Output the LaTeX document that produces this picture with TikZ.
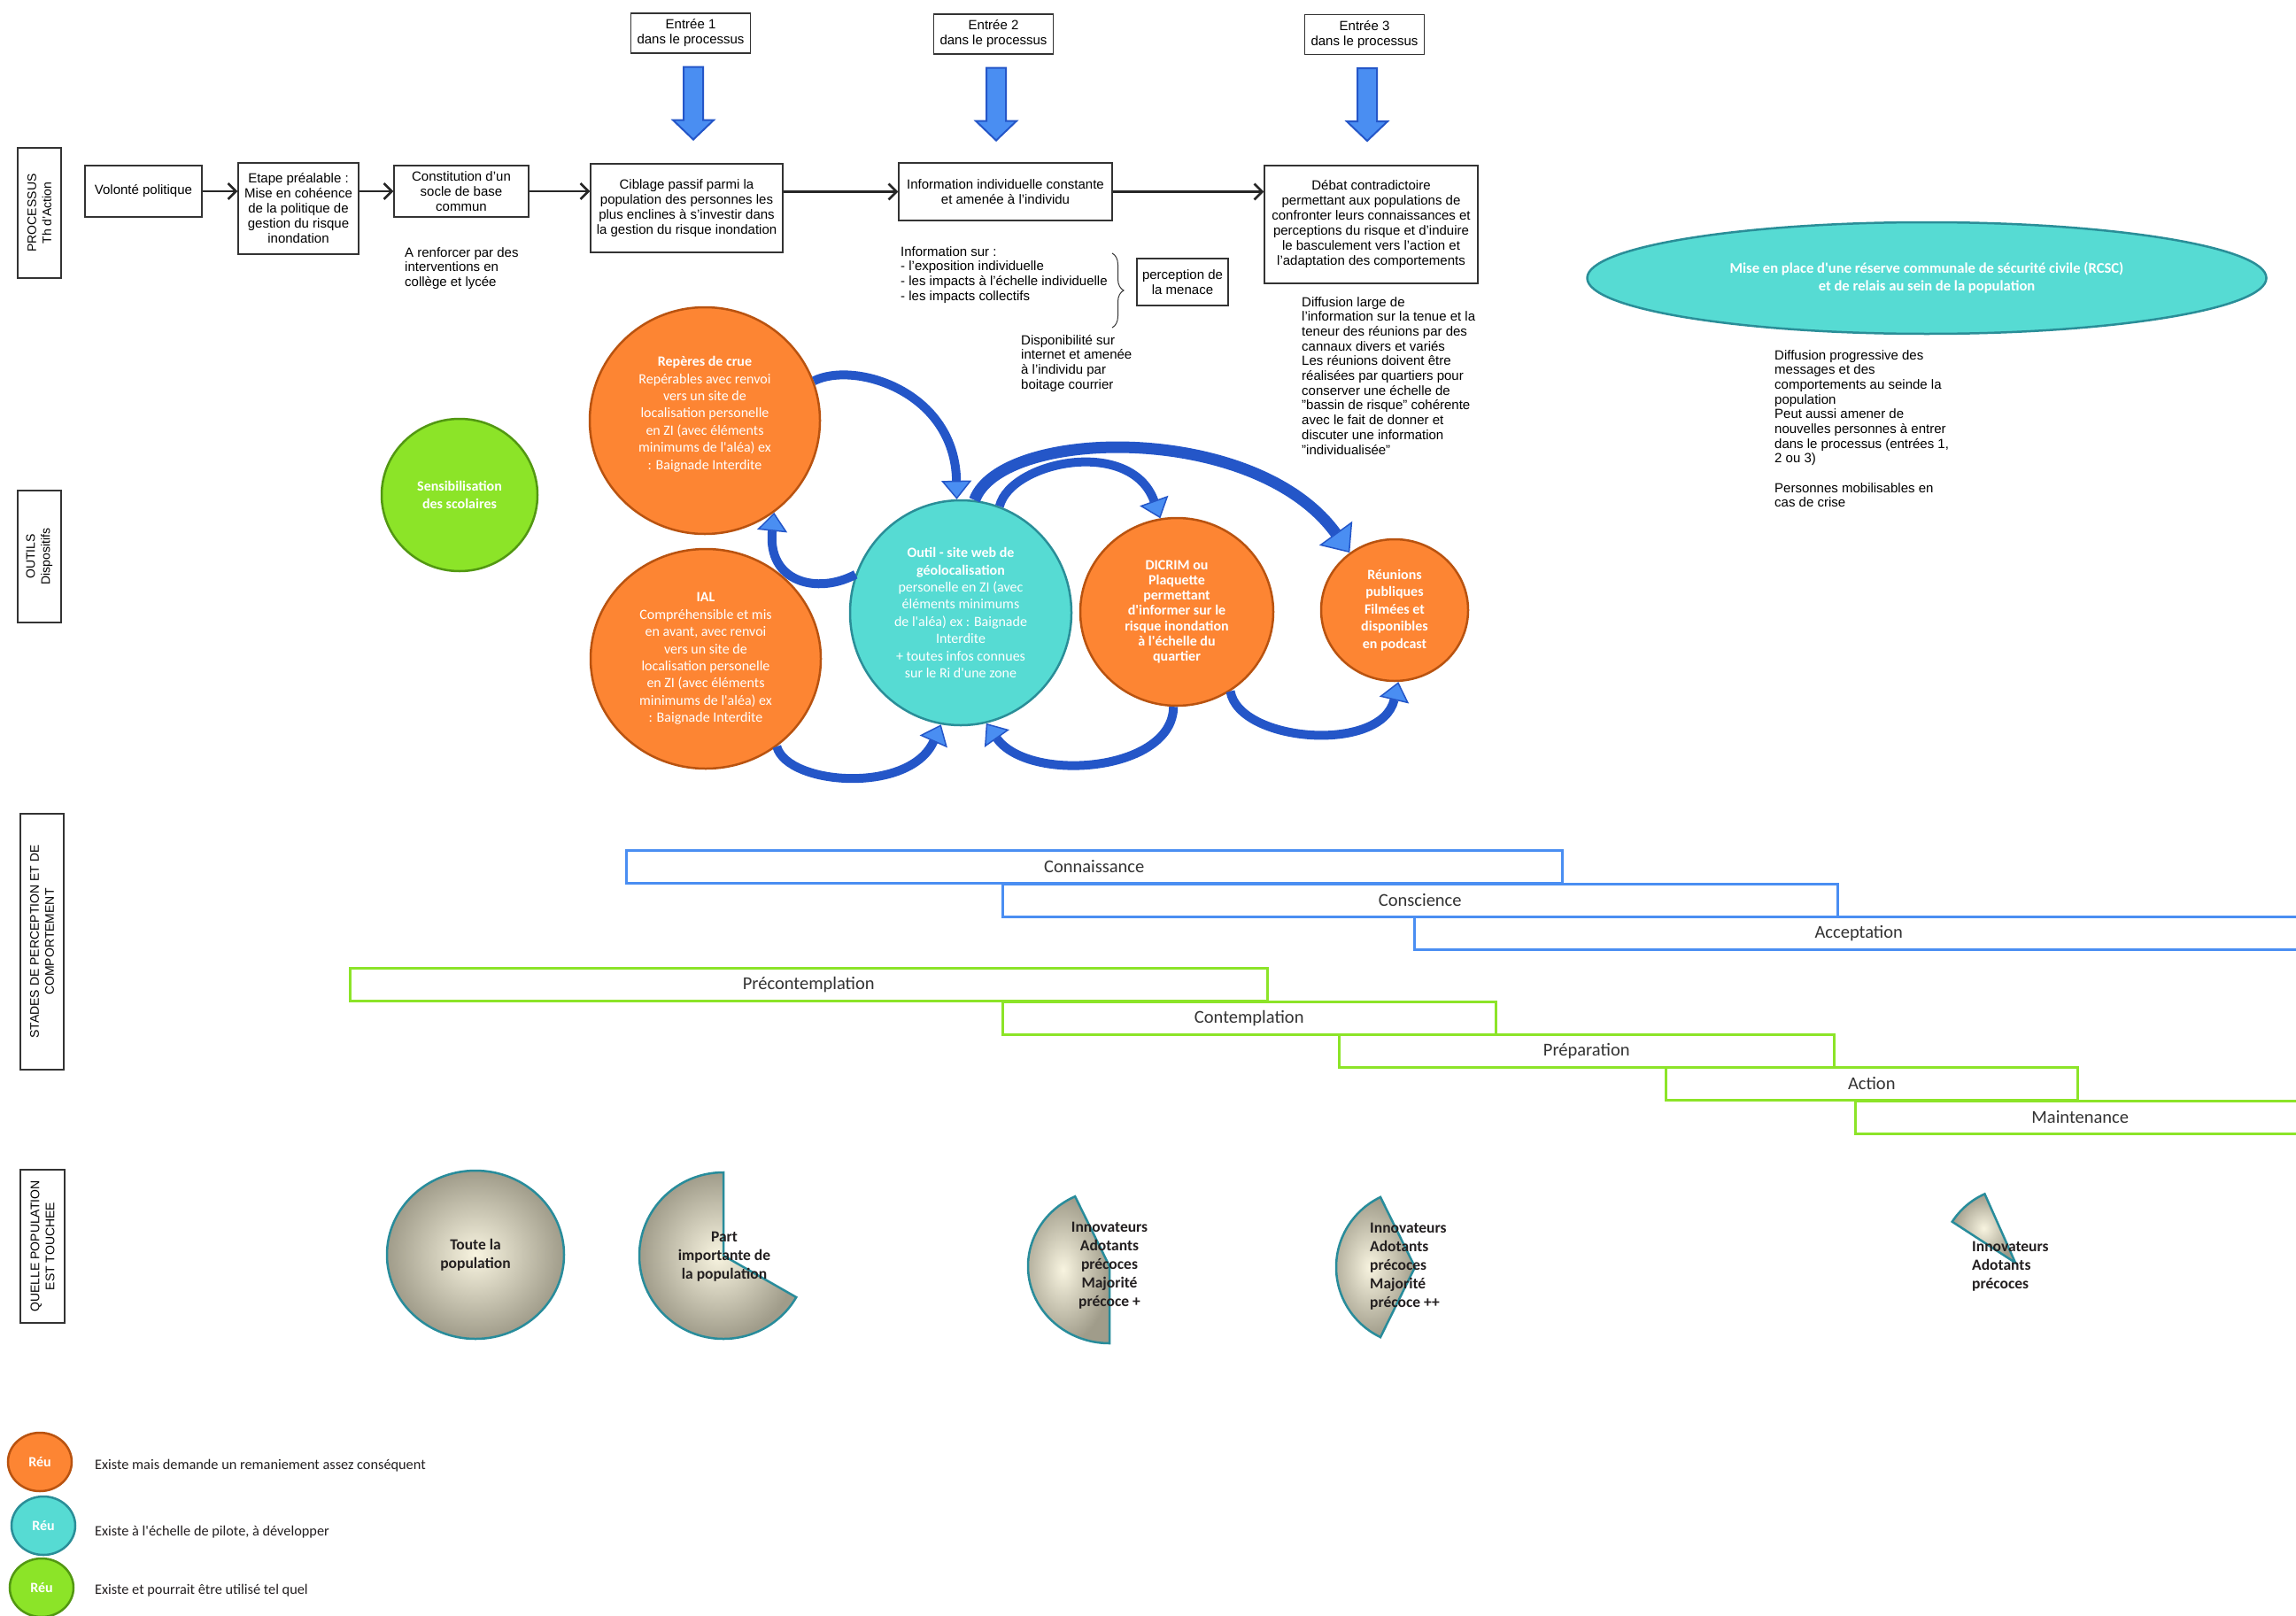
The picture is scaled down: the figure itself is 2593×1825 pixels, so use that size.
\documentclass[tikz,border=0pt]{standalone}
\usepackage{fontspec}
\setmainfont{Liberation Sans}
\newfontfamily\carlito{Carlito}
\usetikzlibrary{arrows.meta,positioning,shapes.geometric,decorations.pathreplacing}

\definecolor{orfill}{RGB}{253,133,51}
\definecolor{ordraw}{RGB}{185,83,16}
\definecolor{tqfill}{RGB}{86,219,211}
\definecolor{tqdraw}{RGB}{42,142,152}
\definecolor{grfill}{RGB}{140,228,40}
\definecolor{grdraw}{RGB}{82,152,18}
\definecolor{barblue}{RGB}{74,142,242}
\definecolor{bargreen}{RGB}{140,228,40}
\definecolor{flowdark}{RGB}{36,86,200}
\definecolor{flowlight}{RGB}{74,142,242}
\definecolor{popin}{RGB}{248,244,224}
\definecolor{popout}{RGB}{160,156,138}
\definecolor{popdraw}{RGB}{40,140,155}
\definecolor{txtdark}{RGB}{35,31,32}

\begin{document}
\begin{tikzpicture}
	% Styles
	[
	x=1pt, y=-1pt,
	procbox/.style={draw=black!80, line width=1.2pt, fill=white, align=center, inner sep=2pt, font=\fontsize{15}{17}\selectfont},
	note/.style={align=left, anchor=north west, inner sep=0pt, font=\fontsize{15}{16.7}\selectfont},
	section/.style={draw=black!80, line width=1.2pt, rotate=90, align=center, inner sep=0pt, font=\fontsize{14}{17}\selectfont},
	tool/.style={ellipse, line width=2.5pt, inner sep=0pt, align=center, text=white, font=\carlito\fontsize{16}{19.4}\selectfont},
	toolor/.style={tool, draw=ordraw, fill=orfill},
	tooltq/.style={tool, draw=tqdraw, fill=tqfill},
	toolgr/.style={tool, draw=grdraw, fill=grfill},
	stadebl/.style={draw=barblue, line width=2.5pt, anchor=north west, minimum height=37pt, inner sep=0pt, text=black!80, font=\carlito\fontsize{20.5}{24}\selectfont},
	stadevt/.style={stadebl, draw=bargreen},
	pop/.style={draw=popdraw, line width=2.5pt, inner color=popin, outer color=popout},
	poptxt/.style={align=center, inner sep=0pt, text=txtdark, font=\carlito\bfseries\fontsize{17.5}{21}\selectfont},
	legtxt/.style={anchor=west, inner sep=0pt, text=txtdark, font=\carlito\fontsize{16.3}{19}\selectfont},
	flecheproc/.style={draw=black!85, line width=2.6pt, -{Straight Barb[length=9pt,width=18pt]}},
	bigdown/.style={draw=flowdark, line width=2pt, fill=flowlight, line join=miter},
	flow/.style={draw=flowdark, line width=10pt, -{Triangle[width=34pt,length=21pt,fill=flowlight,line width=1.5pt]}},
	flowbig/.style={draw=flowdark, line width=13pt, -{Triangle[width=46pt,length=27pt,fill=flowlight,line width=1.5pt]}},
	]

	\path[use as bounding box, fill=white] (0,0) rectangle (2593,1825);

	% Section labels
	\node at (44.5,240.5)	(lproc)		[section, minimum width=147pt, minimum height=49pt] {PROCESSUS\\Th d'Action};
	\node at (44.5,628.5)	(loutils)	[section, minimum width=149pt, minimum height=49pt] {OUTILS\\Dispositifs};
	\node at (47.5,1063.5)	(lstades)	[section, minimum width=289pt, minimum height=49pt] {STADES DE PERCEPTION ET DE\\COMPORTEMENT};
	\node at (48,1407.5)	(lquelle)	[section, minimum width=173pt, minimum height=50pt] {QUELLE POPULATION\\EST TOUCHEE};

	% Process
	\node at (780,37.5)		(e1)		[procbox, minimum width=135pt, minimum height=45pt] {Entrée 1\\dans le processus};
	\node at (1122,38.5)	(e2)		[procbox, minimum width=135pt, minimum height=45pt] {Entrée 2\\dans le processus};
	\node at (1541,39)		(e3)		[procbox, minimum width=135pt, minimum height=45pt] {Entrée 3\\dans le processus};

	\node at (162,216)		(vol)		[procbox, minimum width=132pt, minimum height=58pt] {Volonté politique};
	\node at (337,235.5)	(etape)		[procbox, minimum width=136pt, minimum height=103pt] {Etape préalable :\\Mise en cohéence\\de la politique de\\gestion du risque\\inondation};
	\node at (521,216)		(socle)		[procbox, minimum width=152pt, minimum height=58pt] {Constitution d'un\\socle de base\\commun};
	\node at (775.5,235)	(ciblage)	[procbox, minimum width=217pt, minimum height=100pt] {Ciblage passif parmi la\\population des personnes les\\plus enclines à s'investir dans\\la gestion du risque inondation};
	\node at (1135.5,216.5)	(info)		[procbox, minimum width=241pt, minimum height=65pt] {Information individuelle constante\\et amenée à l'individu};
	\node at (1548.5,253.5)	(debat)		[procbox, minimum width=241pt, minimum height=133pt] {Débat contradictoire\\permettant aux populations de\\confronter leurs connaissances et\\perceptions du risque et d'induire\\le basculement vers l'action et\\l'adaptation des comportements};
	\node at (1335.5,318.5)	(menace)	[procbox, minimum width=103pt, minimum height=53pt] {perception de\\la menace};

	% Notes
	\node at (457,279)		(renfort)	[note] {A renforcer par des\\interventions en\\collège et lycée};
	\node at (1017,278)		(infosur)	[note] {Information sur :\\- l'exposition individuelle\\- les impacts à l'échelle individuelle\\- les impacts collectifs};
	\node at (1153,378)		(dispo)		[note] {Disponibilité sur\\internet et amenée\\à l'individu par\\boitage courrier};
	\node at (1470,335)		(diffusion)	[note] {Diffusion large de\\l'information sur la tenue et la\\teneur des réunions par des\\cannaux divers et variés\\Les réunions doivent être\\réalisées par quartiers pour\\conserver une échelle de\\"bassin de risque" cohérente\\avec le fait de donner et\\discuter une information\\"individualisée"};
	\node at (2004,395)		(diffprog)	[note] {Diffusion progressive des\\messages et des\\comportements au seinde la\\population\\Peut aussi amener de\\nouvelles personnes à entrer\\dans le processus (entrées 1,\\2 ou 3)\\[16.5pt]Personnes mobilisables en\\cas de crise};

	\coordinate (bhaut) at (1256,286);
	\coordinate (bbas) at (1256,370);
	\draw[black!80, line width=1pt, decorate, decoration={brace, amplitude=13pt}] (bhaut) -- (bbas);

	% Process connections
	\foreach \e in {e1,e2,e3}
		\draw[bigdown] (\e.south) ++(-8,15) -- ++(22,0) -- ++(0,60) -- ++(12,0) -- ++(-23,22) -- ++(-23,-22) -- ++(12,0) -- cycle;

	\draw[flecheproc] (vol.east) -- (vol.east -| etape.west);
	\draw[flecheproc] (etape.east |- socle.west) -- (socle.west);
	\draw[flecheproc] (socle.east) -- (socle.east -| ciblage.west);
	\draw[flecheproc] (ciblage.east |- info.west) -- (info.west);
	\draw[flecheproc] (info.east) -- (info.east -| debat.west);

	% Tools
	\node at (2176,314)		(rcsc)		[tooltq, minimum width=767pt, minimum height=126pt, font=\carlito\bfseries\fontsize{16.6}{20}\selectfont] {Mise en place d'une réserve communale de sécurité civile (RCSC)\\et de relais au sein de la population};
	\node at (519,559)		(sensib)	[toolgr, minimum width=176pt, minimum height=172pt, font=\carlito\bfseries\fontsize{16}{20}\selectfont] {Sensibilisation\\des scolaires};
	\node at (796,475)		(reperes)	[toolor, minimum width=260pt, minimum height=256pt] {\textbf{Repères de crue}\\Repérables avec renvoi\\vers un site de\\localisation personelle\\en ZI (avec éléments\\minimums de l'aléa) ex\\: Baignade Interdite\\[-2pt]\mbox{}};
	\node at (797,744)		(ial)		[toolor, minimum width=260pt, minimum height=248pt] {\textbf{IAL}\\Compréhensible et mis\\en avant, avec renvoi\\vers un site de\\localisation personelle\\en ZI (avec éléments\\minimums de l'aléa) ex\\: Baignade Interdite};
	\node at (1085,692)		(outil)		[tooltq, minimum width=250pt, minimum height=254pt] {\textbf{Outil - site web de}\\\textbf{géolocalisation}\\personelle en ZI (avec\\éléments minimums\\de l'aléa) ex : Baignade\\Interdite\\+ toutes infos connues\\sur le Ri d'une zone};
	\node at (1329,691)		(dicrim)	[toolor, minimum width=218pt, minimum height=212pt, font=\carlito\bfseries\fontsize{16}{17.3}\selectfont] {DICRIM ou\\Plaquette\\permettant\\d'informer sur le\\risque inondation\\à l'échelle du\\quartier};
	\node at (1575,689)		(reunions)	[toolor, minimum width=166pt, minimum height=160pt, font=\carlito\bfseries\fontsize{16}{19.6}\selectfont] {Réunions\\publiques\\Filmées et\\disponibles\\en podcast};

	% Tool connections
	\draw[flow] (reperes.20) .. controls +(46,-23) and +(-2,-122) .. (outil.92);
	\draw[flowbig] (outil.83) .. controls +(30,-82) and +(-107,-148) .. (reunions.128);
	\draw[flow] (outil.70) .. controls +(13,-51) and +(-33,-92) .. (dicrim.100);
	\draw[flow] (outil.160) .. controls +(-43,23) and +(-8,79) .. (reperes.-53);
	\draw[flow] (ial.-51) .. controls +(12,44) and +(-35,79) .. (outil.-100);
	\draw[flow] (dicrim.-92) .. controls +(-1,74) and +(48,68) .. (outil.-77);
	\draw[flow] (dicrim.-56) .. controls +(10,58) and +(-19,81) .. (reunions.-87);

	% Stages
	\node at (706,959)		(connaissance)	[stadebl, minimum width=1057pt] {Connaissance};
	\node at (1131,997)		(conscience)	[stadebl, minimum width=943pt] {Conscience};
	\node at (1596,1034)	(acceptation)	[stadebl, minimum width=1004pt] {Acceptation};
	\node at (394,1092)		(precont)		[stadevt, minimum width=1036pt] {Précontemplation};
	\node at (1131,1130)	(contempl)		[stadevt, minimum width=557pt] {Contemplation};
	\node at (1511,1167)	(prepa)			[stadevt, minimum width=559pt] {Préparation};
	\node at (1880,1204)	(action)		[stadevt, minimum width=465pt] {Action};
	\node at (2094,1242)	(maint)			[stadevt, minimum width=508pt] {Maintenance};

	% Population
	\draw[pop] (537,1417) ellipse [x radius=100, y radius=95];
	\node at (537,1417)		(toute)		[poptxt] {Toute la\\population};
	\draw[pop] (817,1418) -- ++(270:95 and 94) arc [start angle=270, end angle=30, x radius=95, y radius=94] -- cycle;
	\node at (818,1419)		(part)		[poptxt] {Part\\importante de\\la population};
	\draw[pop] (1253,1430) -- ++(245:92 and 87) arc [start angle=245, end angle=90, x radius=92, y radius=87] -- cycle;
	\node at (1253,1429)	(innov1)	[poptxt] {Innovateurs\\Adotants\\précoces\\Majorité\\précoce +};
	\draw[pop] (1598,1431) -- ++(244:89 and 88) arc [start angle=244, end angle=116, x radius=89, y radius=88] -- cycle;
	\node at (1547,1430)	(innov2)	[poptxt, anchor=west, align=left] {Innovateurs\\Adotants\\précoces\\Majorité\\précoce ++};
	\draw[pop] (2276,1426) -- ++(246:85) arc [start angle=246, end angle=213, radius=85] -- cycle;
	\node at (2227,1430)	(innov3)	[poptxt, anchor=west, align=left] {Innovateurs\\Adotants\\précoces};

	% Legend
	\node at (45,1651)		(legor)		[toolor, minimum width=72pt, minimum height=66pt, font=\carlito\bfseries\fontsize{16}{19}\selectfont] {Réu};
	\node at (49,1723)		(legtq)		[tooltq, minimum width=72pt, minimum height=66pt, font=\carlito\bfseries\fontsize{16}{19}\selectfont] {Réu};
	\node at (47,1793)		(leggr)		[toolgr, minimum width=72pt, minimum height=66pt, font=\carlito\bfseries\fontsize{16}{19}\selectfont] {Réu};
	\node at (107,1655)		(legtxt1)	[legtxt] {Existe mais demande un remaniement assez conséquent};
	\node at (107,1730)		(legtxt2)	[legtxt] {Existe à l'échelle de pilote, à développer};
	\node at (107,1796)		(legtxt3)	[legtxt] {Existe et pourrait être utilisé tel quel};

\end{tikzpicture}
\end{document}
